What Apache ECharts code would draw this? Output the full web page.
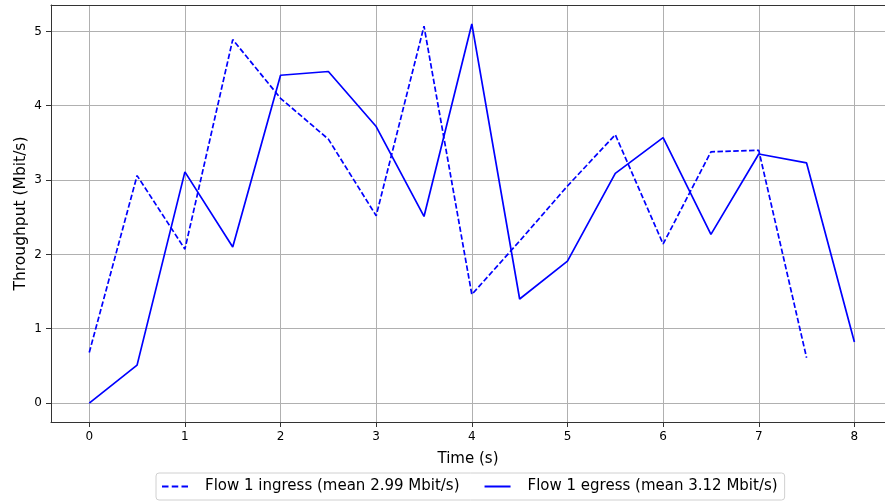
<!DOCTYPE html>
<html><head><meta charset="utf-8">
<script src="https://cdn.jsdelivr.net/npm/echarts@6/dist/echarts.min.js"></script>
<style>html,body{margin:0;padding:0;background:#fff}#c{width:885px;height:502px}</style>
</head><body><div id="c"></div>
<script>
const times = [0,0.5,1,1.5,2,2.5,3,3.5,4,4.5,5,5.5,6,6.5,7,7.5,8];
const ingress = [0.68,3.06,2.07,4.89,4.10,3.55,2.52,5.07,1.46,2.18,2.92,3.61,2.14,3.38,3.40,0.61];
const egress = [0.00,0.51,3.11,2.10,4.41,4.46,3.72,2.51,5.10,1.40,1.91,3.09,3.57,2.27,3.35,3.23,0.82];
const xTicks = [0,1,2,3,4,5,6,7,8];
const yTicks = [0,1,2,3,4,5];
const ingressName = 'Flow 1 ingress (mean 2.99 Mbit/s)';
const egressName = 'Flow 1 egress (mean 3.12 Mbit/s)';

const pairs = (xs, ys) => ys.map((v, i) => [xs[i], v]);
const font = 'DejaVu Sans';
const dashIcon = 'path://M0,0h6.5v2h-6.5z M9.75,0h6.5v2h-6.5z M19.5,0h6.5v2h-6.5z';
const solidIcon = 'path://M0,0h26v2h-26z';
const axisLineStyle = {color: '#333', width: 1};
const chart = echarts.init(document.getElementById('c'), null, {renderer: 'canvas'});
chart.setOption({
  animation: false,
  textStyle: {fontFamily: font},
  grid: {left: 51, right: 0, top: 5, bottom: 80},
  xAxis: [{
    type: 'value', min: -0.4, max: 8.32,
    name: 'Time (s)', nameLocation: 'middle', nameGap: 30, nameMoveOverlap: false,
    nameTextStyle: {fontFamily: font, fontSize: 15, color: '#000'},
    axisLine: {show: true, onZero: false, lineStyle: axisLineStyle},
    axisTick: {show: true, length: 5, customValues: xTicks, lineStyle: axisLineStyle},
    axisLabel: {customValues: xTicks, fontFamily: font, fontSize: 12, color: '#000', margin: 9},
    splitLine: {show: true, lineStyle: {color: '#b0b0b0', width: 1}}
  }, {
    type: 'value', position: 'top', min: -0.4, max: 8.32,
    axisLine: {show: true, onZero: false, lineStyle: axisLineStyle},
    axisTick: {show: false}, axisLabel: {show: false}, splitLine: {show: false}
  }],
  yAxis: {
    type: 'value', min: -0.255, max: 5.355,
    name: 'Throughput (Mbit/s)', nameLocation: 'middle', nameGap: 22, nameRotate: 90, nameMoveOverlap: false,
    nameTextStyle: {fontFamily: font, fontSize: 15.5, color: '#000'},
    axisLine: {show: true, onZero: false, lineStyle: axisLineStyle},
    axisTick: {show: true, length: 5, customValues: yTicks, lineStyle: axisLineStyle},
    axisLabel: {customValues: yTicks, fontFamily: font, fontSize: 12, color: '#000', margin: 9},
    splitLine: {show: true, lineStyle: {color: '#b0b0b0', width: 1}}
  },
  legend: {
    bottom: 2, left: 156,
    itemGap: 25, itemWidth: 26, itemHeight: 2,
    padding: [6, 7, 6, 6],
    borderColor: '#d0d0d0', borderWidth: 1, borderRadius: 3,
    textStyle: {fontFamily: font, fontSize: 15, color: '#000', padding: [0, 0, 0, 12]},
    data: [{name: ingressName, icon: dashIcon}, {name: egressName, icon: solidIcon}]
  },
  series: [
    {name: ingressName, type: 'line', data: pairs(times, ingress), showSymbol: false, symbol: 'none',
     lineStyle: {color: '#0000ff', width: 1.7, type: [5.5, 2.4]}, itemStyle: {color: '#0000ff'}},
    {name: egressName, type: 'line', data: pairs(times, egress), showSymbol: false, symbol: 'none',
     lineStyle: {color: '#0000ff', width: 1.7}, itemStyle: {color: '#0000ff'}}
  ]
});
</script></body></html>
